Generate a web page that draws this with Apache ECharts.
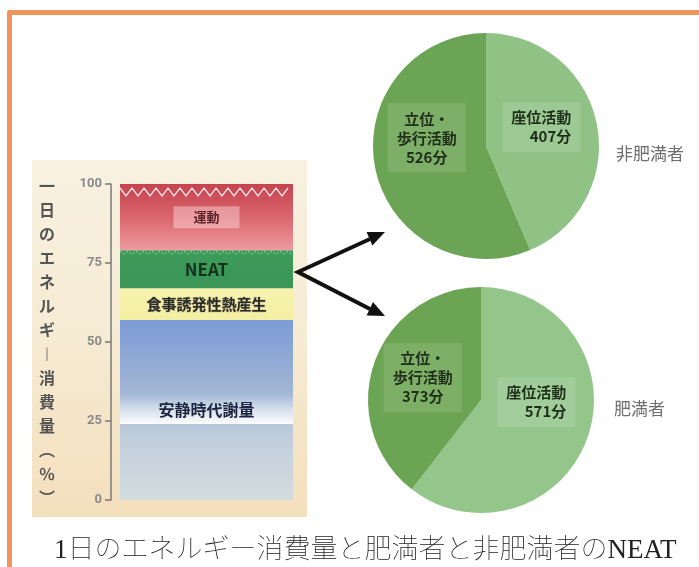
<!DOCTYPE html>
<html><head><meta charset="utf-8">
<script src="https://cdn.jsdelivr.net/npm/echarts@6/dist/echarts.min.js"></script>
<style>html,body{margin:0;padding:0;background:#fff}#c{width:699px;height:567px}</style>
</head><body><div id="c"></div>
<script>
// ---- data ----
const barCategories = ['一日'];
const energyComponents = ['安静時代謝量', '食事誘発性熱産生', 'NEAT', '運動'];
const energyShares = [57, 10, 12, 21];
const yTickValues = [0, 25, 50, 75, 100];
const pieCategories = ['座位活動', '立位・歩行活動'];
const nonObeseMinutes = [407, 526];
const obeseMinutes = [571, 373];
const groupNames = ['非肥満者', '肥満者'];
const yAxisName = '一日のエネルギー消費量（％）';
const captionText = '1日のエネルギー消費量と肥満者と非肥満者のNEAT';

// ---- helpers ----
const CJK = '"Noto Sans CJK JP", "Noto Sans", sans-serif';
const verticalName = yAxisName.split('').map(c => ({'ー': '︱', '（': '︵', '）': '︶'}[c] || c)).join('\n');
const cum = [];
energyShares.reduce((a, v) => { cum.push(a + v); return a + v; }, 0);
const BAR_W = 173;

function vgrad(stops) {
  return {type: 'linear', x: 0, y: 0, x2: 0, y2: 1,
    colorStops: stops.map((c, i) => ({offset: i / (stops.length - 1), color: c}))};
}

const barStyles = [
  {color: vgrad(['#7b9bd6', '#9cb1d4', '#c2cfdc', '#d3dcdf']),
   label: {color: '#1d2640', fontSize: 16, fontWeight: 'bold', width: BAR_W, lineHeight: 28, align: 'center',
     backgroundColor: vgrad(['rgba(255,255,255,0.05)', 'rgba(255,255,255,0.95)'])}},
  {color: vgrad(['#f7f2ae', '#f4efa2']),
   label: {color: '#2b2b2b', fontSize: 15, fontWeight: 'bold', textBorderColor: 'rgba(60,60,60,0.25)', textBorderWidth: 1}},
  {color: vgrad(['#3d9b5a', '#3a9556']),
   label: {color: '#16301d', fontSize: 17, fontWeight: 'bold'}},
  {color: vgrad(['#c5434f', '#d9656d', '#ee9da0']),
   label: {color: '#5a2226', fontSize: 13, fontWeight: 'bold', padding: [1, 20, 8, 20],
     backgroundColor: 'rgba(255,225,225,0.45)'}}
];

const barSeries = energyComponents.map((name, i) => ({
  name: name, type: 'bar', stack: 'e', barWidth: BAR_W, silent: true,
  data: [energyShares[i]],
  itemStyle: {color: barStyles[i].color},
  label: Object.assign({show: true, position: 'inside', formatter: '{a}', fontFamily: CJK}, barStyles[i].label)
}));

// decorative zigzags at the top of the 運動 and NEAT segments
const zigSeries = {
  type: 'custom', silent: true, z: 5,
  data: [[0, cum[3], cum[2]]],
  renderItem: function (params, api) {
    const top = api.coord([api.value(0), api.value(1)]);
    const neat = api.coord([api.value(0), api.value(2)]);
    const x0 = top[0] - BAR_W / 2, x1 = top[0] + BAR_W / 2;
    function zig(y, amp, per) {
      const pts = [];
      let k = 0;
      for (let x = x0; x <= x1 + 0.1; x += per / 2, k++) pts.push([Math.min(x, x1), k % 2 ? y + amp : y]);
      return pts;
    }
    return {type: 'group', children: [
      {type: 'polyline', shape: {points: zig(top[1] + 4, 8, 12)}, style: {stroke: 'rgba(255,240,240,0.95)', lineWidth: 1.3, fill: null}},
      {type: 'polyline', shape: {points: zig(neat[1] + 1, 3, 8)}, style: {stroke: 'rgba(200,235,200,0.8)', lineWidth: 1, lineDash: [2, 2], fill: null}}
    ]};
  }
};

function pieSeries(values, center, offsets, colors) {
  return {
    type: 'pie', center: center, radius: 113, startAngle: 90, clockwise: true, silent: true,
    data: pieCategories.map((n, i) => ({name: n, value: values[i], itemStyle: {color: colors[i]}})),
    label: {
      show: true, position: 'inside', fontFamily: CJK, fontSize: 15, fontWeight: 'bold', color: '#1f2f1a',
      lineHeight: 19, padding: [6, 9], backgroundColor: 'rgba(255,255,255,0.12)',
      formatter: p => p.name === '立位・歩行活動'
        ? '{c|立位・}\n{c|歩行活動}\n{c|' + p.value + '分}'
        : '{r|' + p.name + '}\n{r|' + p.value + '分}',
      rich: {
        c: {align: 'center', fontFamily: CJK, fontSize: 15, fontWeight: 'bold', color: '#1f2f1a', lineHeight: 19},
        r: {align: 'right', fontFamily: CJK, fontSize: 15, fontWeight: 'bold', color: '#1f2f1a', lineHeight: 19}
      }
    },
    labelLine: {show: false},
    labelLayout: p => ({dx: offsets[p.dataIndex][0], dy: offsets[p.dataIndex][1]}),
    emphasis: {disabled: true}
  };
}

const option = {
  animation: false,
  backgroundColor: '#ffffff',
  graphic: [
    {type: 'rect', z: -10, shape: {x: 32, y: 160, width: 275, height: 357},
     style: {fill: vgrad(['#f8f1e1', '#f6ebd3', '#f4dfbc'])}},
    {type: 'polyline', shape: {points: [[9.5, 567], [9.5, 12.5], [699, 12.5]]},
     style: {stroke: '#f0945a', lineWidth: 5, fill: null, lineJoin: 'round'}},
    // arrows
    {type: 'polyline', shape: {points: [[370, 239], [298, 272], [370, 309]]},
     style: {stroke: '#111', lineWidth: 4, fill: null, lineJoin: 'miter'}},
    {type: 'polygon', shape: {points: [[385, 232], [372.4, 245.5], [366.6, 232]]}, style: {fill: '#111'}},
    {type: 'polygon', shape: {points: [[385, 316], [366.6, 315.5], [373, 302]]}, style: {fill: '#111'}}
  ],
  title: [
    {text: groupNames[0], left: 611, top: 140, textStyle: {fontFamily: CJK, fontSize: 17, fontWeight: 'normal', color: '#6e6e6e'}},
    {text: groupNames[1], left: 609, top: 395, textStyle: {fontFamily: CJK, fontSize: 17, fontWeight: 'normal', color: '#6e6e6e'}},
    {text: captionText, left: 49, top: 532,
     textStyle: {fontFamily: '"Liberation Serif", "Noto Sans CJK JP", serif', fontSize: 27, fontWeight: 'lighter', color: '#222'}}
  ],
  grid: {left: 111, right: 397, top: 184, bottom: 67},
  xAxis: {type: 'category', data: barCategories, show: false},
  yAxis: {
    type: 'value', min: yTickValues[0], max: yTickValues[yTickValues.length - 1], interval: 25,
    axisLine: {show: true, lineStyle: {color: '#7a7a7a', width: 1.5}},
    axisTick: {show: true, length: 6, lineStyle: {color: '#7a7a7a', width: 1.5}},
    axisLabel: {color: '#8a8a8a', fontSize: 13, fontWeight: 'bold', margin: 9, fontFamily: 'Roboto, sans-serif'},
    splitLine: {show: false},
    name: verticalName, nameLocation: 'middle', nameRotate: 0, nameGap: 56,
    nameTextStyle: {fontFamily: CJK, fontSize: 16, fontWeight: 'bold', color: '#555', lineHeight: 24, align: 'right', verticalAlign: 'middle'}
  },
  series: barSeries.concat([
    zigSeries,
    pieSeries(nonObeseMinutes, [486, 146], [[-3, -7], [-1, -20]], ['#90c286', '#6ba454']),
    pieSeries(obeseMinutes, [481, 400], [[-1, -17], [-2, -3]], ['#94c68c', '#6ba453'])
  ])
};

const chart = echarts.init(document.getElementById('c'), null, {renderer: 'canvas'});
chart.setOption(option);
</script>
</body></html>
